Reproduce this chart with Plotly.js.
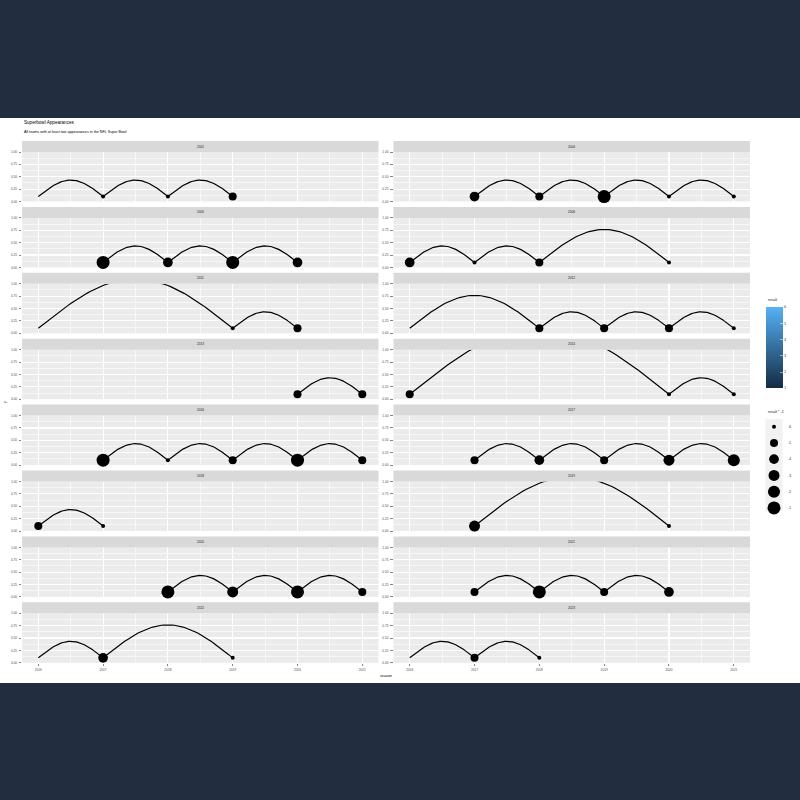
<!DOCTYPE html>
<html><head><meta charset="utf-8">
<script src="https://cdn.plot.ly/plotly-3.0.1.min.js"></script>
<style>
html,body{margin:0;padding:0;background:#222D3F;width:800px;height:800px;overflow:hidden}
#chart{position:absolute;left:0;top:118px;width:800px;height:565px;background:#fff}
</style></head><body><div id="chart"></div>
<script>
// ---- data ----
const panelLabels = ["2001","2004","2005","2006","2011","2012","2013","2014",
                     "2016","2017","2018","2019","2020","2021","2022","2023"];
const panelSeasons = [
  [2016,2017,2018,2019],
  [2017,2018,2019,2020,2021],
  [2017,2018,2019,2020],
  [2016,2017,2018,2020],
  [2016,2019,2020],
  [2016,2018,2019,2020,2021],
  [2020,2021],
  [2016,2020,2021],
  [2017,2018,2019,2020,2021],
  [2017,2018,2019,2020,2021],
  [2016,2017],
  [2017,2020],
  [2018,2019,2020,2021],
  [2017,2018,2019,2020],
  [2016,2017,2019],
  [2016,2017,2018]
];
const panelResults = [
  [null,6,6,5],
  [4,5,1,6,6],
  [1,4,1,4],
  [4,6,5,6],
  [null,6,5],
  [null,5,5,5,6],
  [5,5],
  [5,6,6],
  [1,6,5,1,5],
  [5,4,5,3,2],
  [5,6],
  [3,6],
  [1,3,1,5],
  [5,1,5,4],
  [null,4,6],
  [null,5,6]
];
const xTickVals = [2016,2017,2018,2019,2020,2021];
const xMinorVals = [2016.5,2017.5,2018.5,2019.5,2020.5];
const yTickVals = [0,0.25,0.5,0.75,1];
const yMinorVals = [0.125,0.375,0.625,0.875];
const sizeLegendValues = [-6,-5,-4,-3,-2,-1];
const colorTickVals = [1,2,3,4,5,6];

// ---- geometry ----
const W=800,H=565,TOP=118;
const py = p => 1-(p-TOP)/H;
const px = p => p/W;
const colX0=[22.1,393.5], colX1=[378.5,750];
const rowTop = r => 152+65.9*r, rowBot = r => 201.5+65.9*r;
const FONT = "Liberation Sans, Arial, sans-serif";
const baseY = 0.1, arcPerYear = 1/3;
const diam = res => { const t=(6-res)/5; const s=1+5*Math.sqrt(t); return 2.2+1.8*s; };

const traces=[], shapes=[], annotations=[];
const layout = {
  width:W, height:H, margin:{l:0,r:0,t:0,b:0}, autosize:false,
  paper_bgcolor:'#ffffff', plot_bgcolor:'#EBEBEB', showlegend:false,
  font:{family:FONT,color:'#1A1A1A'}
};

panelLabels.forEach((lab,i)=>{
  const r=Math.floor(i/2), c=i%2, k=i+1;
  const xa='xaxis'+(k===1?'':k), ya='yaxis'+(k===1?'':k);
  const xr='x'+(k===1?'':k), yr='y'+(k===1?'':k);
  const bottom = r===7;
  layout[xa]={domain:[px(colX0[c]),px(colX1[c])], anchor:yr, range:[2015.75,2021.25],
    tickmode:'array', tickvals:xTickVals, ticktext:xTickVals.map(String),
    showticklabels:bottom, ticks:bottom?'outside':'', ticklen:2.5, tickwidth:0.6, tickcolor:'#333333',
    tickfont:{size:3.2,color:'#4D4D4D',family:FONT}, ticklabelstandoff:1,
    showgrid:true, gridcolor:'#ffffff', gridwidth:1.1, zeroline:false, showline:false,
    minor:{tickmode:'array', tickvals:xMinorVals, showgrid:true, gridcolor:'#ffffff', gridwidth:0.55}};
  layout[ya]={domain:[py(rowBot(r)),py(rowTop(r))], anchor:xr, range:[0,1],
    tickmode:'array', tickvals:yTickVals, ticktext:yTickVals.map(v=>v.toFixed(2)),
    ticks:'outside', ticklen:2.3, tickwidth:0.6, tickcolor:'#333333',
    tickfont:{size:3.2,color:'#4D4D4D',family:FONT}, ticklabelstandoff:1,
    showgrid:true, gridcolor:'#ffffff', gridwidth:1.1, zeroline:false, showline:false,
    minor:{tickmode:'array', tickvals:yMinorVals, showgrid:true, gridcolor:'#ffffff', gridwidth:0.55}};
  // strip
  shapes.push({type:'rect', xref:'paper', yref:'paper', x0:px(colX0[c]), x1:px(colX1[c]),
    y0:py(rowTop(r)), y1:py(rowTop(r)-11), fillcolor:'#D9D9D9', line:{width:0}});
  annotations.push({xref:'paper', yref:'paper', x:px((colX0[c]+colX1[c])/2), y:py(rowTop(r)-5.5),
    text:lab, showarrow:false, xanchor:'center', yanchor:'middle', font:{size:3.2,color:'#1A1A1A',family:FONT}});
  // arcs
  const s=panelSeasons[i], res=panelResults[i];
  const lx=[], ly=[];
  for(let j=0;j<s.length-1;j++){
    const a=s[j], b=s[j+1], h=(b-a)*arcPerYear, N=60;
    for(let n=0;n<=N;n++){ const t=n/N; lx.push(a+(b-a)*t); ly.push(baseY+h*Math.sin(Math.PI*t)); }
    lx.push(null); ly.push(null);
  }
  traces.push({type:'scatter', mode:'lines', x:lx, y:ly, xaxis:xr, yaxis:yr,
    line:{color:'#000000', width:1.2}, hoverinfo:'skip'});
  const mx=[], my=[], ms=[];
  s.forEach((yr_,j)=>{ if(res[j]!==null){ mx.push(yr_); my.push(baseY); ms.push(diam(res[j])); } });
  traces.push({type:'scatter', mode:'markers', x:mx, y:my, xaxis:xr, yaxis:yr, cliponaxis:false,
    marker:{color:'#000000', size:ms, opacity:1, line:{width:0}}, hoverinfo:'skip'});
});

// colorbar trace (invisible points)
traces.push({type:'scatter', mode:'markers', x:[2016,2016], y:[-5,-5], xaxis:'x', yaxis:'y',
  hoverinfo:'skip', opacity:0,
  marker:{color:[1,6], cmin:1, cmax:6, colorscale:[[0,'#132B43'],[1,'#56B1F7']], showscale:true,
    colorbar:{x:px(765.7), xanchor:'left', y:py(347.8), yanchor:'middle', len:81, lenmode:'pixels',
      thickness:16.6, thicknessmode:'pixels', xpad:0, ypad:0, outlinewidth:0,
      tickmode:'array', tickvals:colorTickVals, ticktext:colorTickVals.map(String),
      ticks:'inside', ticklen:3, tickwidth:0.5, tickcolor:'#ffffff', ticklabelstandoff:3,
      tickfont:{size:3.2,color:'#1A1A1A',family:FONT}}}});
annotations.push({xref:'paper',yref:'paper',x:px(765.7),y:py(300),text:'result',showarrow:false,
  xanchor:'left',yanchor:'middle',font:{size:3.7,color:'#1A1A1A',family:FONT}});

// size legend
layout.xaxis17={domain:[px(765.7),px(782.3)], anchor:'y17', range:[-1,1], visible:false, fixedrange:true};
layout.yaxis17={domain:[py(511),py(419)], anchor:'x17', range:[5.19,-0.47], side:'right',
  tickmode:'array', tickvals:sizeLegendValues.map((v,j)=>j), ticktext:sizeLegendValues.map(String),
  ticks:'', showgrid:false, zeroline:false, showline:false, ticklabelstandoff:5,
  tickfont:{size:3.2,color:'#1A1A1A',family:FONT}};
shapes.push({type:'rect', xref:'x17 domain', yref:'y17 domain', x0:0,x1:1,y0:0,y1:1,
  fillcolor:'#F2F2F2', line:{width:0}, layer:'below'});
traces.push({type:'scatter', mode:'markers', x:sizeLegendValues.map(()=>0), y:sizeLegendValues.map((v,j)=>j),
  xaxis:'x17', yaxis:'y17', hoverinfo:'skip', cliponaxis:false,
  marker:{color:'#000000', opacity:1, size:sizeLegendValues.map(v=>diam(-v)), line:{width:0}}});
annotations.push({xref:'paper',yref:'paper',x:px(765.7),y:py(412),text:'result * -1',showarrow:false,
  xanchor:'left',yanchor:'middle',font:{size:3.7,color:'#1A1A1A',family:FONT}});

// titles
annotations.push({xref:'paper',yref:'paper',x:px(22),y:py(122.3),text:'Superbowl Appearances',showarrow:false,
  xanchor:'left',yanchor:'middle',font:{size:4.6,color:'#000000',family:FONT}});
annotations.push({xref:'paper',yref:'paper',x:px(22),y:py(131.7),text:'All teams with at least two appearances in the NFL Super Bowl',showarrow:false,
  xanchor:'left',yanchor:'middle',font:{size:3.7,color:'#000000',family:FONT}});
annotations.push({xref:'paper',yref:'paper',x:px(386),y:py(675.5),text:'season',showarrow:false,
  xanchor:'center',yanchor:'middle',font:{size:3.7,color:'#000000',family:FONT}});
annotations.push({xref:'paper',yref:'paper',x:px(5),y:py(402),text:'y',showarrow:false,textangle:-90,
  xanchor:'center',yanchor:'middle',font:{size:3.7,color:'#000000',family:FONT}});

layout.shapes=shapes; layout.annotations=annotations;
Plotly.newPlot('chart', traces, layout, {staticPlot:true, displayModeBar:false});
</script></body></html>
